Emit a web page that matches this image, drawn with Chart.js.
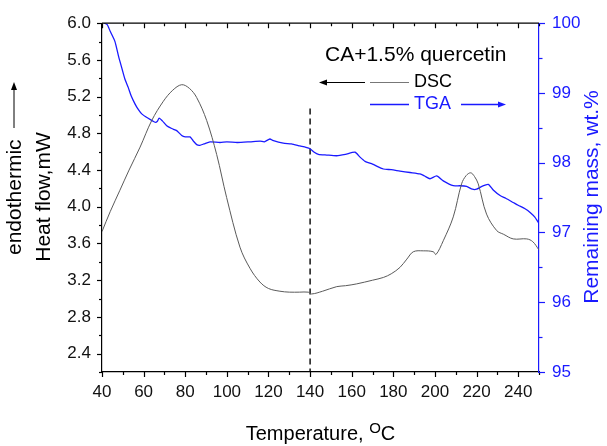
<!DOCTYPE html>
<html lang="en">
  <head>
    <meta charset="UTF-8" />
    <script src="https://cdn.jsdelivr.net/npm/chart.js"></script>
    <title>DSC / TGA</title>
    <style>
      html, body { margin: 0; padding: 0; background: #fff; }
      #wrap { width: 607px; height: 446px; }
    </style>
  </head>
  <body>
    <div id="wrap"><canvas id="dscChart" width="607" height="446"></canvas></div>
    <script>
      // DSC curve (left axis, mW)
      const dscTemp = [40, 44, 48.6, 53, 58.3, 63.9, 69.5, 74, 78.3, 82, 85.5, 90.3, 95.1, 99.9, 106.3, 111.1, 115.9, 120, 125.5, 130, 135, 139.1, 140.7, 146, 152.8, 157, 162.4, 170, 175.2, 179, 183.2, 186.5, 189.6, 194.4, 199.2, 200.5, 204, 208.8, 212.8, 215, 217.2, 219, 220.8, 224.8, 229.7, 233, 237.6, 244.1, 247, 250];
      const dscHeat = [3.73, 3.95, 4.18, 4.40, 4.65, 4.94, 5.15, 5.27, 5.33, 5.29, 5.19, 4.94, 4.57, 4.10, 3.56, 3.33, 3.18, 3.11, 3.08, 3.07, 3.07, 3.07, 3.05, 3.08, 3.13, 3.14, 3.16, 3.20, 3.23, 3.27, 3.34, 3.43, 3.51, 3.52, 3.51, 3.48, 3.63, 3.89, 4.25, 4.34, 4.37, 4.33, 4.25, 3.92, 3.74, 3.70, 3.65, 3.65, 3.62, 3.53];

      // TGA curve (right axis, wt.%)
      const tgaTemp = [41, 42.5, 44, 46.2, 48, 49.5, 51, 52.6, 54, 55.9, 57.5, 59.1, 62, 65.5, 66.5, 67.5, 69, 71.1, 73.5, 75.9, 78.3, 80, 82.3, 83.9, 85.5, 87, 89, 91.9, 96.7, 100, 105, 111.1, 116, 118, 120.7, 122, 127.1, 131, 135.1, 138, 140, 142, 144, 148, 152.8, 157, 161.6, 164, 166.4, 170, 175.2, 179, 183.2, 188, 192.8, 195, 197.6, 200.8, 204, 208.8, 212, 215.2, 218, 220, 222.5, 225.6, 228, 231.3, 234, 237.6, 240, 243.3, 246, 248, 250];
      const tgaMass = [100.0, 99.98, 99.88, 99.74, 99.52, 99.36, 99.2, 99.08, 98.96, 98.84, 98.76, 98.70, 98.64, 98.58, 98.59, 98.64, 98.60, 98.53, 98.49, 98.46, 98.39, 98.37, 98.37, 98.31, 98.26, 98.25, 98.27, 98.30, 98.29, 98.30, 98.29, 98.30, 98.31, 98.30, 98.34, 98.32, 98.28, 98.27, 98.24, 98.22, 98.20, 98.15, 98.12, 98.11, 98.10, 98.12, 98.15, 98.08, 98.02, 97.98, 97.91, 97.90, 97.88, 97.86, 97.84, 97.81, 97.77, 97.81, 97.74, 97.67, 97.67, 97.66, 97.62, 97.62, 97.66, 97.69, 97.61, 97.53, 97.49, 97.43, 97.39, 97.34, 97.28, 97.22, 97.13];

      // dashed marker at 140 C
      const markerTemp = [140, 140];
      const markerHeat = [5.07, 2.2];

      // tick labels
      const xTicks = [40, 60, 80, 100, 120, 140, 160, 180, 200, 220, 240];
      const leftTicks = [2.4, 2.8, 3.2, 3.6, 4.0, 4.4, 4.8, 5.2, 5.6, 6.0];
      const rightTicks = [95, 96, 97, 98, 99, 100];

      const FONT = "Arial, 'Liberation Sans', sans-serif";
      const BLUE = "#1a1aff";

      function pts(xs, ys) {
        return xs.map((x, i) => ({ x: x, y: ys[i] }));
      }

      function arrowHead(ctx, x, y, dir) {
        ctx.beginPath();
        ctx.moveTo(x, y);
        ctx.lineTo(x - dir * 8, y - 3);
        ctx.lineTo(x - dir * 8, y + 3);
        ctx.closePath();
        ctx.fill();
      }

      // ticks, frame, titles and the legend notes
      const decor = {
        id: "decor",
        afterDraw(chart) {
          const ctx = chart.ctx;
          const a = chart.chartArea;
          const sx = chart.scales.x, sy = chart.scales.y, sr = chart.scales.y2;
          ctx.save();
          ctx.lineWidth = 1.2;

          // top frame
          ctx.strokeStyle = "#000";
          ctx.beginPath();
          ctx.moveTo(a.left, a.top);
          ctx.lineTo(a.right, a.top);
          ctx.stroke();

          // x ticks: bottom outward, top inward
          for (let v = 40; v <= 250; v += 10) {
            const px = Math.round(sx.getPixelForValue(v)) + 0.5;
            const len = v % 20 === 0 ? 5 : 3;
            ctx.beginPath();
            ctx.moveTo(px, a.bottom);
            ctx.lineTo(px, a.bottom + len);
            ctx.moveTo(px, a.top);
            ctx.lineTo(px, a.top + len);
            ctx.stroke();
          }
          // left ticks
          for (let k = 11; k <= 30; k++) {
            const py = Math.round(sy.getPixelForValue(k * 0.2)) + 0.5;
            const len = k % 2 === 0 ? 5 : 3;
            ctx.beginPath();
            ctx.moveTo(a.left, py);
            ctx.lineTo(a.left - len, py);
            ctx.stroke();
          }
          // right ticks
          ctx.strokeStyle = BLUE;
          for (let k = 190; k <= 200; k++) {
            const py = Math.round(sr.getPixelForValue(k / 2)) + 0.5;
            const len = k % 2 === 0 ? 6 : 3.5;
            ctx.beginPath();
            ctx.moveTo(a.right, py);
            ctx.lineTo(a.right + len, py);
            ctx.stroke();
          }

          // x title with superscript o
          ctx.fillStyle = "#000";
          ctx.textBaseline = "alphabetic";
          ctx.textAlign = "left";
          ctx.font = "20px " + FONT;
          const t1 = "Temperature, ";
          const w1 = ctx.measureText(t1).width;
          const wC = ctx.measureText("C").width;
          ctx.font = "15px " + FONT;
          const wO = ctx.measureText("O").width;
          let tx = (a.left + a.right) / 2 - (w1 + wO + wC) / 2;
          const ty = 440;
          ctx.font = "20px " + FONT;
          ctx.fillText(t1, tx, ty);
          ctx.font = "15px " + FONT;
          ctx.fillText("O", tx + w1, ty - 7);
          ctx.font = "20px " + FONT;
          ctx.fillText("C", tx + w1 + wO, ty);

          // left title, two rotated lines
          ctx.save();
          ctx.translate(21, 255);
          ctx.rotate(-Math.PI / 2);
          ctx.font = "21px " + FONT;
          ctx.fillText("endothermic", 0, 0);
          ctx.lineWidth = 1;
          ctx.strokeStyle = "#000";
          ctx.beginPath();
          ctx.moveTo(127, -7);
          ctx.lineTo(168, -7);
          ctx.stroke();
          arrowHead(ctx, 173, -7, 1);
          ctx.restore();

          ctx.save();
          ctx.translate(50, 197);
          ctx.rotate(-Math.PI / 2);
          ctx.textAlign = "center";
          ctx.font = "21px " + FONT;
          ctx.fillText("Heat flow,mW", 0, 0);
          ctx.restore();

          // right title
          ctx.save();
          ctx.translate(598, 197);
          ctx.rotate(-Math.PI / 2);
          ctx.textAlign = "center";
          ctx.fillStyle = BLUE;
          ctx.font = "21px " + FONT;
          ctx.fillText("Remaining mass, wt.%", 0, 0);
          ctx.restore();

          // sample name
          ctx.textAlign = "left";
          ctx.textBaseline = "middle";
          ctx.font = "21px " + FONT;
          ctx.fillStyle = "#000";
          ctx.fillText("CA+1.5% quercetin", 325, 55);

          // DSC note: arrow to the left axis
          ctx.font = "18px " + FONT;
          ctx.lineWidth = 1;
          ctx.strokeStyle = "#000";
          ctx.fillStyle = "#000";
          ctx.beginPath();
          ctx.moveTo(325, 82.5);
          ctx.lineTo(365, 82.5);
          ctx.stroke();
          arrowHead(ctx, 319, 82.5, -1);
          ctx.strokeStyle = "#777";
          ctx.beginPath();
          ctx.moveTo(370, 82.5);
          ctx.lineTo(409, 82.5);
          ctx.stroke();
          ctx.fillText("DSC", 414, 82);

          // TGA note: arrow to the right axis
          ctx.strokeStyle = BLUE;
          ctx.fillStyle = BLUE;
          ctx.lineWidth = 1.3;
          ctx.beginPath();
          ctx.moveTo(370, 104.5);
          ctx.lineTo(409, 104.5);
          ctx.moveTo(461, 104.5);
          ctx.lineTo(499, 104.5);
          ctx.stroke();
          arrowHead(ctx, 506, 104.5, 1);
          ctx.fillText("TGA", 414, 104);

          ctx.restore();
        }
      };

      const ctx = document.getElementById("dscChart").getContext("2d");
      const myChart = new Chart(ctx, {
        type: "line",
        data: {
          datasets: [
            {
              label: "DSC",
              data: pts(dscTemp, dscHeat),
              yAxisID: "y",
              borderColor: "#5a5a5a",
              borderWidth: 1,
              pointRadius: 0,
              tension: 0.35
            },
            {
              label: "TGA",
              data: pts(tgaTemp, tgaMass),
              yAxisID: "y2",
              borderColor: BLUE,
              borderWidth: 1.3,
              pointRadius: 0,
              tension: 0.2
            },
            {
              label: "marker",
              data: pts(markerTemp, markerHeat),
              yAxisID: "y",
              borderColor: "#000",
              borderWidth: 1.4,
              borderDash: [6, 4],
              pointRadius: 0
            }
          ]
        },
        options: {
          responsive: false,
          animation: false,
          layout: { padding: { top: 22, left: 0, right: 0, bottom: 0 } },
          plugins: { legend: { display: false }, tooltip: { enabled: false } },
          scales: {
            x: {
              type: "linear",
              min: 40,
              max: 250,
              afterFit: (s) => { s.height = 74; },
              afterBuildTicks: (s) => { s.ticks = xTicks.map((v) => ({ value: v })); },
              grid: { display: false, drawTicks: false },
              border: { display: true, color: "#000", width: 1.2 },
              ticks: { color: "#111", padding: 10, maxRotation: 0, font: { size: 17, family: FONT } }
            },
            y: {
              position: "left",
              min: 2.2,
              max: 6.0,
              afterFit: (s) => { s.width = 102; },
              afterBuildTicks: (s) => { s.ticks = leftTicks.map((v) => ({ value: v })); },
              grid: { display: false, drawTicks: false },
              border: { display: true, color: "#000", width: 1.2 },
              ticks: { color: "#111", padding: 11, font: { size: 17, family: FONT }, callback: (v) => Number(v).toFixed(1) }
            },
            y2: {
              position: "right",
              min: 95,
              max: 100,
              afterFit: (s) => { s.width = 68; },
              afterBuildTicks: (s) => { s.ticks = rightTicks.map((v) => ({ value: v })); },
              grid: { display: false, drawTicks: false },
              border: { display: true, color: BLUE, width: 1.2 },
              ticks: { color: BLUE, padding: 13, font: { size: 17, family: FONT } }
            }
          }
        },
        plugins: [decor]
      });
    </script>
  </body>
</html>
